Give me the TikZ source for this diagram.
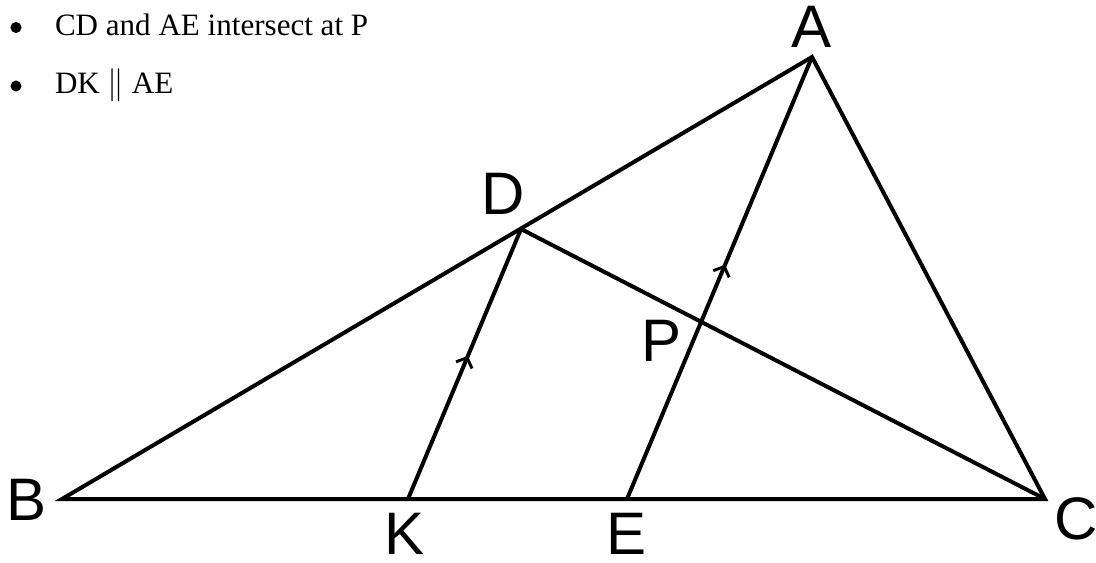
\documentclass[tikz,border=0pt]{standalone}
\usepackage{fontspec}
\setmainfont{Liberation Serif}
\newfontfamily\lblfont{Liberation Sans}
\usetikzlibrary{arrows.meta,decorations.markings}
\tikzstyle{lbl}=[inner sep=0, font=\lblfont\fontsize{45}{45}\selectfont]
\tikzstyle{bul}=[inner sep=0, anchor=base west, font=\fontsize{23.3}{28}\selectfont]
\tikzstyle{dot}=[shape=circle, minimum size=8.3pt, inner sep=0, fill=black]
\tikzstyle{parmark}=[postaction={decorate}, decoration={markings, mark=at position .53 with {\arrow[line width=2.2pt]{Straight Barb[length=6pt,width=13pt]}}}]

\begin{document}
\begin{tikzpicture}[x=.75pt, y=-.75pt, line width=3pt]
\useasboundingbox (0,0) rectangle (1096,562);
% bullet list
\node at (16,27.5)[dot](b1){};
\node at (53,35)[bul](t1){CD and AE intersect at P};
\node at (16,86)[dot](b2){};
\node at (53,93)[bul](t2){DK $\parallel$ AE};
% points
\coordinate (A) at (812,57);
\coordinate (B) at (62,499);
\coordinate (C) at (1045,499);
\coordinate (D) at (521,229);
\coordinate (K) at (408,499);
\coordinate (E) at (627,499);
% labels
\node at (812,27)[lbl](lA){A};
\node at (27,500)[lbl](lB){B};
\node at (1076,519)[lbl](lC){C};
\node at (503,194)[lbl](lD){D};
\node at (405,534)[lbl](lK){K};
\node at (627,534)[lbl](lE){E};
\node at (662,341)[lbl](lP){P};
\draw[miter limit=20] (A)--(B)--(C)--cycle;
\draw (D)--(C);
\draw[parmark] (K)--(D);
\draw[parmark] (E)--(A);
\end{tikzpicture}
\end{document}
